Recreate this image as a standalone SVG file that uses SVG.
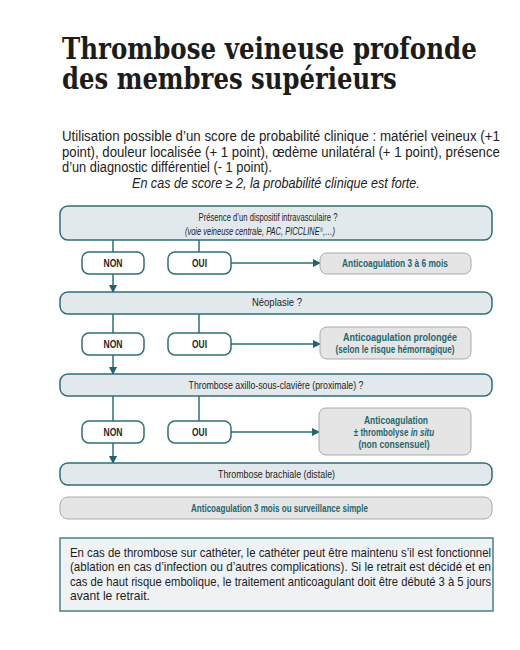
<svg xmlns="http://www.w3.org/2000/svg" width="520" height="650" viewBox="0 0 520 650">
<defs>
<marker id="ah" markerWidth="8" markerHeight="8" refX="7" refY="4" orient="auto" markerUnits="userSpaceOnUse">
<path d="M0,0 L8,4 L0,8 Z" fill="#23646c"/>
</marker>
<style>
.title{font-family:"DejaVu Serif",serif;font-weight:bold;font-size:29px;fill:#1c1c1c}
.para{font-family:"Liberation Sans",Arial,sans-serif;font-size:14px;fill:#222}
.dec{fill:#e2e9ec;stroke:#2e6f77;stroke-width:1.5}
.yn{fill:#ffffff;stroke:#2e6f77;stroke-width:1.5}
.res{fill:#e5e5e5;stroke:#a9a9a9;stroke-width:1}
.t{font-family:"Liberation Sans",Arial,sans-serif;font-size:10px;fill:#1e1e1e;text-anchor:middle}
.tr{font-family:"Liberation Sans",Arial,sans-serif;font-size:10px;fill:#24666e;text-anchor:middle}
.b{font-weight:bold}
.c{fill:none;stroke:#2e6f77;stroke-width:1.5}
.note{fill:#eef2f4;stroke:#4b8088;stroke-width:1.5}
.nt{font-family:"Liberation Sans",Arial,sans-serif;font-size:12px;fill:#1e1e1e}
</style>
</defs>
<rect width="520" height="650" fill="#ffffff"/>
<g id="title">
<text class="title" transform="translate(62,59) scale(0.843,1)" textLength="492" lengthAdjust="spacingAndGlyphs">Thrombose veineuse profonde</text>
<text class="title" transform="translate(62,89) scale(0.843,1)" textLength="397" lengthAdjust="spacingAndGlyphs">des membres supérieurs</text>
</g>
<g id="intro">
<text class="para" transform="translate(62,141) scale(0.82,1)" textLength="534" lengthAdjust="spacingAndGlyphs">Utilisation possible d’un score de probabilité clinique : matériel veineux (+1</text>
<text class="para" transform="translate(62,157) scale(0.82,1)" textLength="534" lengthAdjust="spacingAndGlyphs">point), douleur localisée (+ 1 point), œdème unilatéral (+ 1 point), présence</text>
<text class="para" transform="translate(62,172) scale(0.82,1)" textLength="256" lengthAdjust="spacingAndGlyphs">d’un diagnostic différentiel (- 1 point).</text>
<text class="para" transform="translate(132,188) scale(0.82,1)" font-style="italic" textLength="351" lengthAdjust="spacingAndGlyphs">En cas de score ≥ 2, la probabilité clinique est forte.</text>
</g>
<g id="connectors">
<line class="c" x1="113" y1="240" x2="113" y2="252"/>
<line class="c" x1="199" y1="240" x2="199" y2="252"/>
<line class="c" x1="113" y1="274" x2="113" y2="292" marker-end="url(#ah)"/>
<line class="c" x1="231" y1="263" x2="320" y2="263" marker-end="url(#ah)"/>
<line class="c" x1="113" y1="314" x2="113" y2="333"/>
<line class="c" x1="199" y1="314" x2="199" y2="333"/>
<line class="c" x1="113" y1="355" x2="113" y2="374" marker-end="url(#ah)"/>
<line class="c" x1="231" y1="344" x2="320" y2="344" marker-end="url(#ah)"/>
<line class="c" x1="113" y1="396" x2="113" y2="421"/>
<line class="c" x1="199" y1="396" x2="199" y2="421"/>
<line class="c" x1="113" y1="443" x2="113" y2="463" marker-end="url(#ah)"/>
<line class="c" x1="231" y1="432" x2="319" y2="432" marker-end="url(#ah)"/>
</g>
<g id="q1">
<rect class="dec" x="60" y="206" width="432" height="34" rx="8"/>
<text class="t" transform="translate(268,221) scale(0.72,1)" textLength="193" lengthAdjust="spacingAndGlyphs">Présence d’un dispositif intravasculaire ?</text>
<text class="t" transform="translate(260,235) scale(0.75,1)" font-style="italic">(voie veineuse centrale, PAC, PICCLINE<tspan font-size="6" baseline-shift="super">®</tspan>,…)</text>
</g>
<g id="non1">
<rect class="yn" x="82" y="252" width="62" height="22" rx="7"/>
<text class="t b" transform="translate(113,267) scale(0.72,1)" textLength="26.4" lengthAdjust="spacingAndGlyphs">NON</text>
</g>
<g id="oui1">
<rect class="yn" x="168" y="252" width="63" height="22" rx="7"/>
<text class="t b" transform="translate(199.5,267) scale(0.72,1)" textLength="20.8" lengthAdjust="spacingAndGlyphs">OUI</text>
</g>
<g id="r1">
<rect class="res" x="320" y="253" width="151" height="21" rx="7"/>
<text class="tr b" transform="translate(395,267) scale(0.72,1)" textLength="147" lengthAdjust="spacingAndGlyphs">Anticoagulation 3 à 6 mois</text>
</g>
<g id="q2">
<rect class="dec" x="60" y="292" width="432" height="22" rx="8"/>
<text class="t" transform="translate(277,306) scale(0.72,1)" textLength="69.4" lengthAdjust="spacingAndGlyphs">Néoplasie ?</text>
</g>
<g id="non2">
<rect class="yn" x="82" y="333" width="62" height="22" rx="7"/>
<text class="t b" transform="translate(113,348) scale(0.72,1)" textLength="26.4" lengthAdjust="spacingAndGlyphs">NON</text>
</g>
<g id="oui2">
<rect class="yn" x="168" y="333" width="63" height="22" rx="7"/>
<text class="t b" transform="translate(199.5,348) scale(0.72,1)" textLength="20.8" lengthAdjust="spacingAndGlyphs">OUI</text>
</g>
<g id="r2">
<rect class="res" x="320" y="327" width="151" height="32" rx="7"/>
<text class="tr b" transform="translate(400,341) scale(0.72,1)" textLength="158.3" lengthAdjust="spacingAndGlyphs">Anticoagulation prolongée</text>
<text class="tr b" transform="translate(395,353) scale(0.72,1)" textLength="165.3" lengthAdjust="spacingAndGlyphs">(selon le risque hémorragique)</text>
</g>
<g id="q3">
<rect class="dec" x="60" y="374" width="432" height="22" rx="8"/>
<text class="t" transform="translate(276,389) scale(0.72,1)" textLength="243" lengthAdjust="spacingAndGlyphs">Thrombose axillo-sous-clavière (proximale) ?</text>
</g>
<g id="non3">
<rect class="yn" x="82" y="421" width="62" height="22" rx="7"/>
<text class="t b" transform="translate(113,436) scale(0.72,1)" textLength="26.4" lengthAdjust="spacingAndGlyphs">NON</text>
</g>
<g id="oui3">
<rect class="yn" x="168" y="421" width="63" height="22" rx="7"/>
<text class="t b" transform="translate(199.5,436) scale(0.72,1)" textLength="20.8" lengthAdjust="spacingAndGlyphs">OUI</text>
</g>
<g id="r3">
<rect class="res" x="319" y="408" width="152" height="47" rx="7"/>
<text class="tr b" transform="translate(396,424) scale(0.72,1)" textLength="88.9" lengthAdjust="spacingAndGlyphs">Anticoagulation</text>
<text class="tr b" transform="translate(394,436) scale(0.8,1)">± thrombolyse <tspan font-style="italic">in situ</tspan></text>
<text class="tr b" transform="translate(394,447.5) scale(0.72,1)" textLength="98.6" lengthAdjust="spacingAndGlyphs">(non consensuel)</text>
</g>
<g id="q4">
<rect class="dec" x="60" y="463" width="432" height="22" rx="8"/>
<text class="t" transform="translate(276.5,478) scale(0.72,1)" textLength="162.5" lengthAdjust="spacingAndGlyphs">Thrombose brachiale (distale)</text>
</g>
<g id="r4">
<rect class="res" x="60" y="497" width="432" height="22" rx="8"/>
<text class="tr b" transform="translate(279.5,512) scale(0.72,1)" textLength="245.8" lengthAdjust="spacingAndGlyphs">Anticoagulation 3 mois ou surveillance simple</text>
</g>
<g id="note">
<rect class="note" x="60" y="538" width="433" height="73"/>
<text class="nt" transform="translate(70,557) scale(0.85,1)" textLength="495.3" lengthAdjust="spacingAndGlyphs">En cas de thrombose sur cathéter, le cathéter peut être maintenu s’il est fonctionnel</text>
<text class="nt" transform="translate(70,571) scale(0.85,1)" textLength="495.3" lengthAdjust="spacingAndGlyphs">(ablation en cas d’infection ou d’autres complications). Si le retrait est décidé et en</text>
<text class="nt" transform="translate(70,586) scale(0.85,1)" textLength="495.3" lengthAdjust="spacingAndGlyphs">cas de haut risque embolique, le traitement anticoagulant doit être débuté 3 à 5 jours</text>
<text class="nt" transform="translate(70,600) scale(0.85,1)" textLength="94.1" lengthAdjust="spacingAndGlyphs">avant le retrait.</text>
</g>
</svg>
